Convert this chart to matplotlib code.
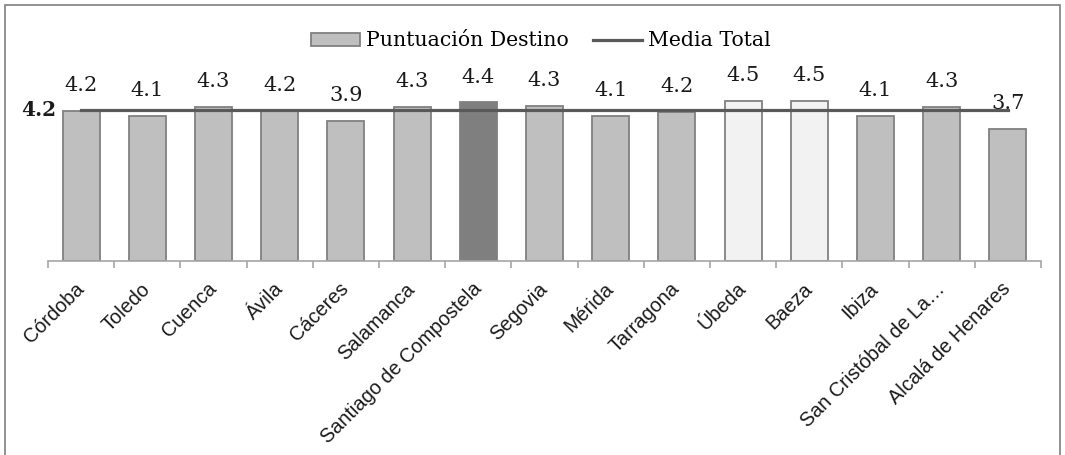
import matplotlib
matplotlib.use("Agg")
import matplotlib.pyplot as plt
from matplotlib.patches import Rectangle, Patch
from matplotlib.lines import Line2D

categories = ["Córdoba", "Toledo", "Cuenca", "Ávila", "Cáceres", "Salamanca",
              "Santiago de Compostela", "Segovia", "Mérida", "Tarragona", "Úbeda",
              "Baeza", "Ibiza", "San Cristóbal de La…", "Alcalá de Henares"]
values = [4.21, 4.06, 4.32, 4.19, 3.91, 4.32, 4.44, 4.33, 4.07, 4.17, 4.49, 4.49, 4.07, 4.32, 3.71]
value_labels = ["4.2", "4.1", "4.3", "4.2", "3.9", "4.3", "4.4", "4.3", "4.1", "4.2",
                "4.5", "4.5", "4.1", "4.3", "3.7"]
media_total = 4.23
media_label = "4.2"

bar_colors = ["#bfbfbf"] * len(categories)
bar_colors[6] = "#7f7f7f"
bar_colors[10] = "#f2f2f2"
bar_colors[11] = "#f2f2f2"

W, H = 1065, 455
fig = plt.figure(figsize=(W / 100, H / 100), dpi=100)
ax = fig.add_axes([48 / W, 194 / H, 993 / W, 196.35 / H])

x = list(range(len(categories)))
ax.bar(x, values, width=0.56, color=bar_colors, edgecolor="#808080", linewidth=1.3, zorder=2)
ax.plot(x, [media_total] * len(x), color="#595959", linewidth=2.3, zorder=3)

for xi, v, lab in zip(x, values, value_labels):
    ax.annotate(lab, (xi, v), xytext=(0, 11.5), textcoords="offset points",
                ha="center", va="bottom", fontsize=15, family="DejaVu Serif",
                color="#1a1a1a", annotation_clip=False)

ax.text(-0.38, media_total, media_label, ha="right", va="center", fontsize=14.5,
        fontweight="bold", family="DejaVu Serif", color="#1a1a1a")

ax.set_xlim(-0.5, len(categories) - 0.5)
ax.set_ylim(0, 5.5)
ax.set_yticks([])
for s in ["top", "right", "left"]:
    ax.spines[s].set_visible(False)
ax.spines["bottom"].set_color("#a6a6a6")
ax.spines["bottom"].set_linewidth(1.2)

ax.set_xticks(x)
ax.set_xticklabels(categories, rotation=45, ha="right", va="center",
                   rotation_mode="anchor",
                   fontsize=14.3, family="Liberation Sans", color="#1a1a1a")
ax.tick_params(axis="x", which="major", length=0, pad=18)
ax.set_xticks([i - 0.5 for i in range(len(categories) + 1)], minor=True)
ax.tick_params(axis="x", which="minor", length=5, color="#a6a6a6", width=1.2)

handles = [Patch(facecolor="#bfbfbf", edgecolor="#808080", linewidth=1.3),
           Line2D([0], [0], color="#595959", linewidth=2.3)]
fig.legend(handles, ["Puntuación Destino", "Media Total"], loc="center",
           bbox_to_anchor=(541 / W, 1 - 41 / H), ncol=2, frameon=False,
           prop={"family": "DejaVu Serif", "size": 14.7}, handlelength=2.4,
           handleheight=0.6, handletextpad=0.3, columnspacing=1.2)

fig.patches.append(Rectangle((5 / W, -0.05), 1055 / W, 1.05 - 5 / H,
                             transform=fig.transFigure, fill=False,
                             edgecolor="#7f7f7f", linewidth=1.2))

fig.savefig("out.png", dpi=100)
